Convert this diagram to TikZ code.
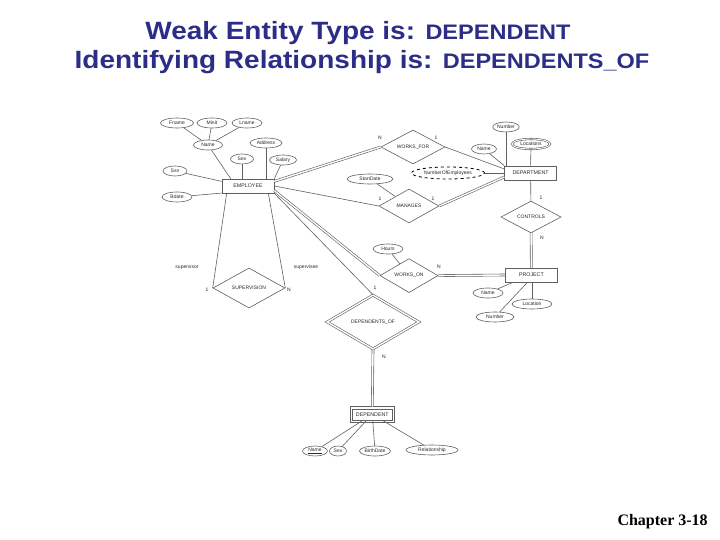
\documentclass[tikz,border=0pt]{standalone}
\usepackage{fontspec}
\setmainfont{Liberation Sans}
\newfontfamily\titlefont[FakeStretch=1.12]{Liberation Sans}
\newfontfamily\chapfont{Liberation Serif}
\usetikzlibrary{shapes.geometric}
\definecolor{titleblue}{RGB}{43,45,135}
\definecolor{erline}{RGB}{95,95,95}
\definecolor{ertext}{RGB}{40,40,40}

\begin{document}
\begin{tikzpicture}[x=1pt, y=-1pt, font=\fontsize{5}{6}\selectfont, text=ertext,
  link/.style={draw=erline, line width=0.6pt},
  total/.style={draw=erline, line width=0.6pt, double, double distance=1.4pt},
  ent/.style={link, rectangle, fill=white, minimum width=52pt, minimum height=14pt,
    inner sep=0pt, font=\fontsize{5.3}{6}\selectfont},
  went/.style={ent, minimum width=40pt, minimum height=11pt},
  attr/.style={link, ellipse, fill=white, inner xsep=0.5pt, inner ysep=0pt, minimum height=10pt},
  mattr/.style={attr, double, double distance=0.9pt},
  dattr/.style={attr, draw=black, dashed, line width=0.8pt},
  rel/.style={link, diamond, aspect=2, fill=white, inner sep=0pt},
  idrel/.style={rel, double, double distance=1.4pt},
  card/.style={inner sep=0pt, font=\fontsize{5}{6}\selectfont}
]
\useasboundingbox (0,0) rectangle (720,540);

% title
\node[anchor=base, text=titleblue, font=\titlefont\bfseries\fontsize{25}{30}\selectfont]
  (title1) at (358,40) {Weak Entity Type is: {\fontsize{21}{25}\selectfont DEPENDENT}};
\node[anchor=base, text=titleblue, font=\titlefont\bfseries\fontsize{25}{30}\selectfont]
  (title2) at (362,69) {Identifying Relationship is: {\fontsize{21}{25}\selectfont DEPENDENTS\_OF}};

% entity types
\node[ent] (emp) at (248,186) {EMPLOYEE};
\node[ent] (dept) at (530.6,173) {DEPARTMENT};
\node[ent] (proj) at (531.4,275) {PROJECT};
\node[went] (dep) at (372.3,414.3) {DEPENDENT};
\draw[link] ([shift={(-2pt,2pt)}]dep.north west) rectangle ([shift={(2pt,-2pt)}]dep.south east);

% relationship types
\node[rel, minimum width=64pt, minimum height=34pt] (worksfor) at (413,147) {WORKS\_FOR};
\node[rel, minimum width=60pt, minimum height=34pt] (manages) at (409,206) {MANAGES};
\node[rel, minimum width=60pt, minimum height=32pt] (ctrl) at (531,217) {CONTROLS};
\node[rel, minimum width=58pt, minimum height=34pt] (workson) at (409,275.6) {WORKS\_ON};
\node[rel, minimum width=72pt, minimum height=40pt] (superv) at (249,288) {SUPERVISION};
\node[idrel, minimum width=92pt, minimum height=54pt] (depof) at (373,322) {DEPENDENTS\_OF};

% attributes
\foreach \n/\x/\y/\w/\t in {fname/177/123/33/Fname, minit/212/123/30/Minit,
    lname/247/123/30/Lname, ename/208/145/29/Name, addr/266/143/32/Address,
    sex/242/159/23/Sex, salary/283/160/27/Salary, ssn/175/171/24/Ssn,
    bdate/177/197/30/Bdate, dnum/506/127/26/Number, dname/484/149/25/Name,
    sdate/370/179/46/StartDate, hours/388/249/30/Hours, pname/488/293/30/Name,
    ploc/532/304/40/Location, pnum/495/317/38/Number, depsex/338/451/17/Sex,
    bdate2/375/451/31/BirthDate, rship/432/450/52/Relationship}
  \node[attr, minimum width=\w pt] (\n) at (\x,\y) {\t};
\node[attr, minimum width=25pt] (depname) at (315,451) {\underline{Name}};
\node[mattr, minimum width=38pt] (dloc) at (531,144) {Locations};
\node[dattr, minimum width=73pt, minimum height=12pt] (noe) at (448,173) {NumberOfEmployees};

% attribute links
\foreach \a/\b in {fname/ename, minit/ename, lname/ename, sdate/manages, hours/workson,
    depname/dep, depsex/dep, bdate2/dep, rship/dep, noe/dept}
  \draw[link] (\a) -- (\b);
\draw[link] (ename) -- ([xshift=9pt]emp.north west);
\draw[link] (sex) -- (sex |- emp.north);
\draw[link] (addr) -- (addr |- emp.north);
\draw[link] (salary) -- (emp.north east);
\draw[link] (ssn) -- (emp.170);
\draw[link] (bdate) -- (emp.195);
\draw[link] (dnum) -- (dnum |- dept.north);
\draw[link] (dname) -- (dept.north west);
\draw[link] (dloc) -- (dept.north);
\draw[link] (pname) -- ([xshift=8pt]proj.south west);
\draw[link] (ploc) -- (ploc |- proj.south);
\draw[link] (pnum) -- ([xshift=-4pt]proj.south);

% relationship links
\draw[total] (emp.10) -- (worksfor.west);
\draw[link] (worksfor.east) -- ([yshift=4pt]dept.west);
\draw[link] (emp.east) -- (manages.west);
\draw[total] (manages.east) -- ([yshift=-4pt]dept.west);
\draw[total] (emp.-10) -- (workson.west);
\draw[total] (workson.east) -- (proj.west);
\draw[link] (dept) -- (ctrl);
\draw[total] (ctrl) -- (proj);
\draw[link] ([xshift=5pt]emp.south west) -- (superv.west);
\draw[link] ([xshift=-6pt]emp.south east) -- (superv.east);
\draw[link] (emp.south east) -- (depof.north);
\draw[total] (depof.south) -- ([yshift=2pt]dep.north);

% cardinalities and roles
\node[card] (wfn) at (380,138) {N};
\node[card] (wf1) at (436,138) {1};
\node[card] (mg1a) at (380,199) {1};
\node[card] (mg1b) at (433,199) {1};
\node[card] (ct1) at (541,198) {1};
\node[card] (ctn) at (542,238) {N};
\node[card] (won) at (439,267) {N};
\node[card] (sv1) at (207,290) {1};
\node[card] (svn) at (289,290) {N};
\node[card] (supr) at (187,267) {supervisor};
\node[card] (supe) at (306,267) {supervisee};
\node[card] (do1) at (375,288) {1};
\node[card] (don) at (384,357) {N};

% page number
\node[anchor=base west, text=black, font=\chapfont\bfseries\fontsize{16}{19}\selectfont]
  (chap) at (614,525) {Chapter 3-18};
\end{tikzpicture}
\end{document}
